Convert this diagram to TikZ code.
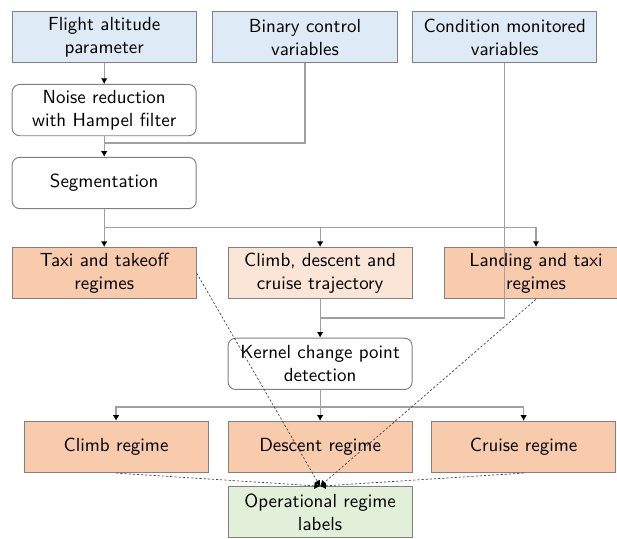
\documentclass[tikz,border=0pt]{standalone}
\usepackage{tikz}
\usetikzlibrary{arrows.meta}
\renewcommand{\familydefault}{\sfdefault}
\definecolor{inblue}{HTML}{DEEBF7}
\definecolor{regorange}{HTML}{F8CBAD}
\definecolor{trajorange}{HTML}{FBE5D6}
\definecolor{labgreen}{HTML}{E2F0D9}
\definecolor{boxgray}{HTML}{808080}
\definecolor{linegray}{HTML}{A0A0A0}

\begin{document}
\begin{tikzpicture}
\tikzset{
  box/.style = {draw=boxgray, line width=0.5pt, minimum width=3.41cm,
                minimum height=0.95cm, align=center, inner sep=2pt},
  inbox/.style = {box, fill=inblue},
  procbox/.style = {box, fill=white, rounded corners=4pt},
  regbox/.style = {box, fill=regorange},
  link/.style = {draw=linegray, line width=0.6pt},
  arr/.style = {link, -{Latex[length=3pt,width=3.5pt,color=black]}},
  dotarr/.style = {draw=black!75, line width=0.35pt,
                   dash pattern=on 1.2pt off 1pt,
                   -{Latex[length=3pt,width=3.5pt,color=black]}},
}
\useasboundingbox (0,0) rectangle (11.43,-9.97);

  % inputs
  \node[inbox] (alt)  at (1.93,-0.69) {Flight altitude\\parameter};
  \node[inbox] (bin)  at (5.65,-0.69) {Binary control\\variables};
  \node[inbox] (cond) at (9.35,-0.69) {Condition monitored\\variables};

  % preprocessing
  \node[procbox] (noise) at (1.93,-2.04) {Noise reduction\\with Hampel filter};
  \node[procbox] (seg)   at (1.93,-3.39) {Segmentation};

  % flight phases
  \node[regbox] (taxi) at (1.93,-5.06) {Taxi and takeoff\\regimes};
  \node[box, fill=trajorange] (traj) at (5.93,-5.06) {Climb, descent and\\cruise trajectory};
  \node[regbox] (land) at (9.93,-5.06) {Landing and taxi\\regimes};

  \node[procbox] (kcpd) at (5.93,-6.74) {Kernel change point\\detection};

  \node[regbox] (climb)  at (2.15,-8.28) {Climb regime};
  \node[regbox] (desc)   at (5.93,-8.28) {Descent regime};
  \node[regbox] (cruise) at (9.70,-8.28) {Cruise regime};

  \node[box, fill=labgreen] (lab) at (5.93,-9.49) {Operational regime\\labels};

  % junctions
  \coordinate (jnoise) at (1.93,-2.65);
  \coordinate (jseg)   at (1.93,-4.22);
  \coordinate (jtraj)  at (5.93,-4.22);
  \coordinate (jcond)  at (5.93,-5.89);
  \coordinate (jkcpd)  at (5.93,-7.54);

  \draw[arr] (alt) -- (noise);
  \draw[arr] (noise) -- (seg);
  \draw[link] (bin.south) |- (jnoise);

  \draw[link] (seg) -- (jseg);
  \draw[arr] (jseg) -- (taxi);
  \draw[arr] (jtraj) -- (traj);
  \draw[arr] (jseg) -| (land);

  \draw[link] (cond.south) |- (jcond);
  \draw[arr] (traj) -- (kcpd);

  \draw[arr] (kcpd) -- (desc);
  \draw[arr] (jkcpd) -| (climb);
  \draw[arr] (jkcpd) -| (cruise);

  % regimes to labels
  \draw[dotarr] (taxi.east) -- (lab.north);
  \draw[dotarr] (land.south) -- (lab.north);
  \draw[dotarr] (climb.south) -- (lab.north);
  \draw[dotarr] (cruise.south) -- (lab.north);

\end{tikzpicture}
\end{document}
